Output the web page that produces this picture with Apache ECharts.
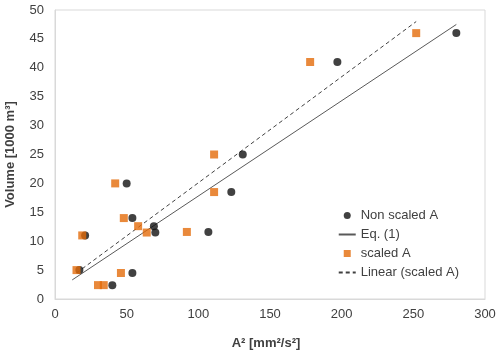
<!DOCTYPE html>
<html>
<head>
<meta charset="utf-8">
<script src="https://cdn.jsdelivr.net/npm/echarts@6/dist/echarts.min.js"></script>
<style>
  html, body { margin: 0; padding: 0; background: #fff; }
  #chart { width: 500px; height: 354px; }
</style>
</head>
<body>
<div id="chart"></div>
<script>
// data
const nonScaledA = [280, 197, 131, 123, 107, 50, 54, 69, 70, 21, 17, 54, 40];
const nonScaledV = [46, 41, 25, 18.5, 11.6, 20, 14, 12.6, 11.5, 11, 5, 4.5, 2.4];
const scaledA = [252, 178, 111, 111, 92, 42, 48, 58, 64, 19, 15, 46, 30, 34];
const scaledV = [46, 41, 25, 18.5, 11.6, 20, 14, 12.6, 11.5, 11, 5, 4.5, 2.4, 2.4];
// fitted lines, end points
const eqA = [12, 280];
const eqV = [3.3, 47.5];
const linA = [15, 252];
const linV = [4.5, 48];
const xTicks = { min: 0, max: 300, interval: 50 };
const yTicks = { min: 0, max: 50, interval: 5 };

const zip = (a, b) => a.map((v, i) => [v, b[i]]);

const chart = echarts.init(document.getElementById('chart'));
const font = 'Liberation Sans, Arial, sans-serif';
const hidden = { opacity: 0 };

let option = {
  animation: false,
  grid: {
    left: 55, right: 15, top: 10, bottom: 55,
    containLabel: false,
    outerBoundsMode: 'none',
    show: true, borderColor: '#d9d9d9', borderWidth: 1
  },
  legend: {
    orient: 'vertical',
    right: 36,
    top: 204,
    itemWidth: 17,
    itemHeight: 7,
    itemGap: 6,
    symbolKeepAspect: true,
    textStyle: { fontFamily: font, fontSize: 13, color: '#404040' },
    data: [
      { name: 'Non scaled A', icon: 'circle' },
      { name: 'Eq. (1)', itemStyle: hidden },
      { name: 'scaled A', icon: 'path://M0,0L10,0L10,10L0,10Z' },
      { name: 'Linear (scaled A)', itemStyle: hidden }
    ]
  },
  xAxis: {
    type: 'value',
    min: xTicks.min, max: xTicks.max, interval: xTicks.interval,
    name: 'A² [mm²/s²]',
    nameLocation: 'middle',
    nameGap: 38,
    nameTextStyle: { fontFamily: font, fontSize: 13, fontWeight: 'bold', color: '#404040', padding: [0, 8, 0, 0] },
    axisLine: { show: true, lineStyle: { color: '#d9d9d9' } },
    axisTick: { show: false },
    splitLine: { show: false },
    axisLabel: { fontFamily: font, fontSize: 13, color: '#404040', margin: 9 }
  },
  yAxis: {
    type: 'value',
    min: yTicks.min, max: yTicks.max, interval: yTicks.interval,
    name: 'Volume [1000 m³]',
    nameLocation: 'middle',
    nameGap: 38,
    nameTextStyle: { fontFamily: font, fontSize: 13, fontWeight: 'bold', color: '#404040' },
    axisLine: { show: true, lineStyle: { color: '#d9d9d9' } },
    axisTick: { show: false },
    splitLine: { show: false },
    axisLabel: { fontFamily: font, fontSize: 13, color: '#404040', margin: 11 }
  },
  series: [
    {
      name: 'Non scaled A',
      type: 'scatter',
      symbol: 'circle',
      symbolSize: 8,
      itemStyle: { color: '#111111' },
      data: zip(nonScaledA, nonScaledV),
      z: 3
    },
    {
      name: 'Eq. (1)',
      type: 'line',
      symbol: 'none',
      lineStyle: { color: '#595959', width: 1 },
      itemStyle: { color: '#595959' },
      data: zip(eqA, eqV),
      z: 2
    },
    {
      name: 'scaled A',
      type: 'scatter',
      symbol: 'rect',
      symbolSize: 8,
      itemStyle: { color: '#e46c0a' },
      data: zip(scaledA, scaledV),
      z: 4
    },
    {
      name: 'Linear (scaled A)',
      type: 'line',
      symbol: 'none',
      lineStyle: { color: '#404040', width: 1, type: [4, 3] },
      itemStyle: { color: '#404040' },
      data: zip(linA, linV),
      z: 2
    }
  ]
};
chart.setOption(option);
</script>
</body>
</html>
